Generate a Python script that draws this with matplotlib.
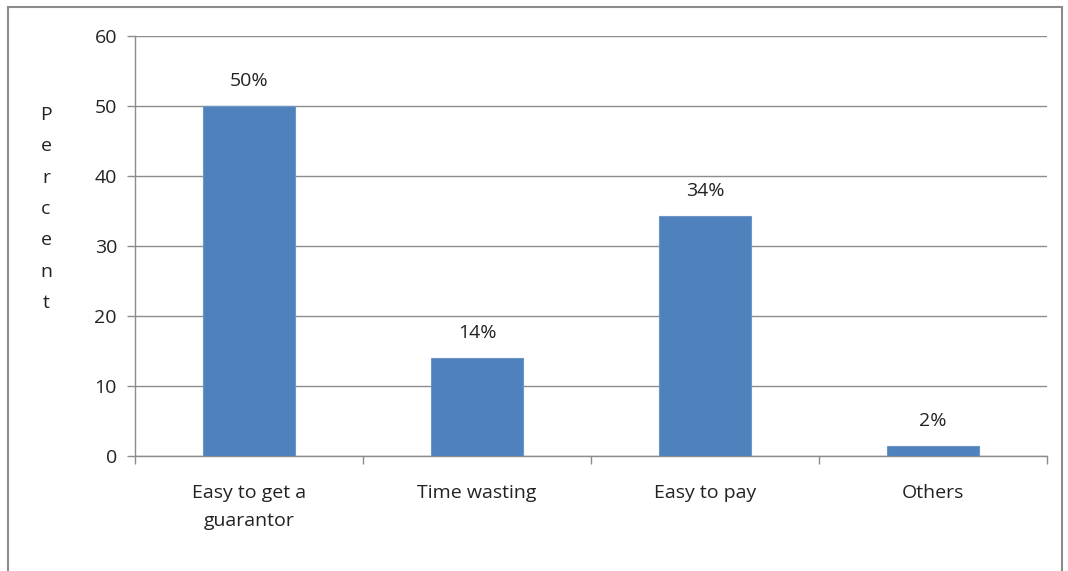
import matplotlib.pyplot as plt
from matplotlib.patches import Rectangle

categories = ['Easy to get a\nguarantor', 'Time wasting', 'Easy to pay', 'Others']
values = [50, 14, 34.3, 1.5]
labels = ['50%', '14%', '34%', '2%']

plt.rcParams['font.family'] = ['Open Sans', 'DejaVu Sans']
fs = 14

fig = plt.figure(figsize=(10.68, 5.71), dpi=100)
ax = fig.add_axes([135 / 1068, 115 / 571, 912 / 1068, 420 / 571])

# рамка вокруг всей картинки
fig.patches.append(Rectangle((8 / 1068, -0.05), 1054 / 1068, 1.05 - 7 / 571,
                             transform=fig.transFigure, fill=False,
                             edgecolor='#8c8c8c', linewidth=1.5))

x = list(range(len(categories)))
ax.bar(x, values, width=0.4, color='#4f81bd', edgecolor='#6d95c8',
       linewidth=0.8, zorder=3)

for xi, v, lab in zip(x, values, labels):
    ax.annotate(lab, (xi, v), xytext=(0, 18), textcoords='offset points',
                ha='center', va='center', fontsize=fs, color='#222222')

ax.set_xlim(-0.5, len(categories) - 0.5)
ax.set_ylim(0, 60)
ax.set_yticks(range(0, 61, 10))
ax.yaxis.grid(True, color='#8c8c8c', linewidth=1, zorder=0)
ax.set_axisbelow(True)

ax.set_xticks([i - 0.5 for i in range(len(categories) + 1)])
ax.set_xticklabels([])
ax.set_xticks(x, minor=True)
ax.set_xticklabels(categories, minor=True, fontsize=fs, color='#222222',
                   linespacing=1.75)
ax.tick_params(axis='x', which='minor', length=0, pad=20)
ax.tick_params(axis='x', which='major', length=6, color='#8c8c8c', width=1)
ax.tick_params(axis='y', length=6, color='#8c8c8c', width=1, labelsize=fs,
               labelcolor='#222222', pad=7)

for s in ['top', 'right']:
    ax.spines[s].set_visible(False)
for s in ['left', 'bottom']:
    ax.spines[s].set_color('#8c8c8c')
    ax.spines[s].set_linewidth(1)

fig.text(46 / 1068, 1 - 209 / 571, '\n'.join('Percent'), ha='center',
         va='center', fontsize=fs, color='#222222', linespacing=1.95)

fig.savefig('out.png', dpi=100)
